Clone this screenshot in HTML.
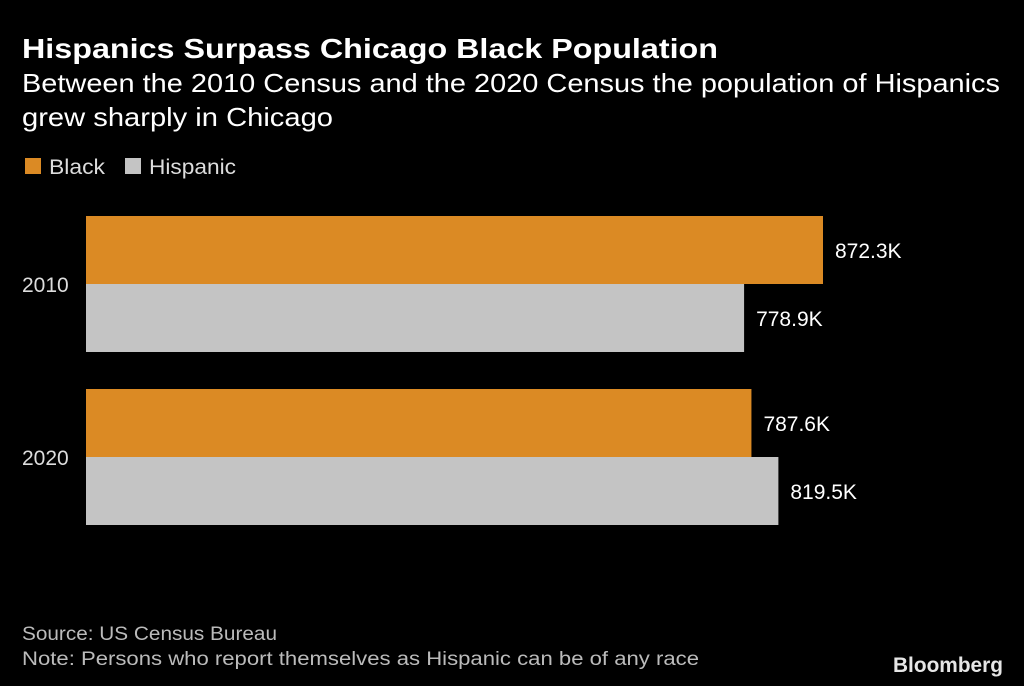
<!DOCTYPE html>
<html><head><meta charset="utf-8"><style>
html,body{margin:0;padding:0;background:#000;}
svg{display:block;font-family:"Liberation Sans","DejaVu Sans",sans-serif;}
</style></head><body>
<svg id="chart" width="1024" height="686" viewBox="0 0 1024 686">
<rect width="1024" height="686" fill="#000"/>
<text x="22" y="58" font-size="28" font-weight="bold" fill="#fff" textLength="696" lengthAdjust="spacingAndGlyphs">Hispanics Surpass Chicago Black Population</text>
<text x="22" y="92" font-size="26" fill="#fff" textLength="978" lengthAdjust="spacingAndGlyphs">Between the 2010 Census and the 2020 Census the population of Hispanics</text>
<text x="22" y="126" font-size="26" fill="#fff" textLength="311" lengthAdjust="spacingAndGlyphs">grew sharply in Chicago</text>
<g>
<rect x="25" y="158" width="16" height="16" fill="#DB8A24"/>
<text x="49" y="174" font-size="21" fill="#ddd" textLength="56" lengthAdjust="spacingAndGlyphs">Black</text>
<rect x="125" y="158" width="16" height="16" fill="#C4C4C4"/>
<text x="149" y="174" font-size="21" fill="#ddd" textLength="87" lengthAdjust="spacingAndGlyphs">Hispanic</text>
</g>
<g id="bars"></g>
<text x="22" y="640" font-size="19" fill="#bbb" textLength="255" lengthAdjust="spacingAndGlyphs">Source: US Census Bureau</text>
<text x="22" y="665" font-size="19" fill="#bbb" textLength="677" lengthAdjust="spacingAndGlyphs">Note: Persons who report themselves as Hispanic can be of any race</text>
<text x="1003" y="672" font-size="21" font-weight="bold" fill="#e6e6e6" text-anchor="end" textLength="110" lengthAdjust="spacingAndGlyphs">Bloomberg</text>
</svg>
<script>
const categories = ["2010", "2020"];
const blackValues = [872.3, 787.6];
const hispanicValues = [778.9, 819.5];
const valueLabelsBlack = ["872.3K", "787.6K"];
const valueLabelsHispanic = ["778.9K", "819.5K"];

const x0 = 86, pxPerK = 737 / 872.3;
function xScale(v){ return x0 + v * pxPerK; }
const groupTop = [216, 389], barH = 68;
const g = document.getElementById('bars');
const NS = 'http://www.w3.org/2000/svg';
function mk(tag, attrs){ const e=document.createElementNS(NS,tag); for(const k in attrs) e.setAttribute(k,attrs[k]); return e; }
categories.forEach((c,i)=>{
  const series = [[blackValues[i],'#DB8A24',valueLabelsBlack[i],'black'],[hispanicValues[i],'#C4C4C4',valueLabelsHispanic[i],'hispanic']];
  series.forEach((s,j)=>{
    const y = groupTop[i] + j*barH;
    const r = mk('rect',{x:x0,y:y,width:xScale(s[0])-x0,height:barH,fill:s[1]});
    
    
    g.appendChild(r);
    const t = mk('text',{x:xScale(s[0])+12,y:y+barH/2+8,'font-size':21,fill:'#fff'});
    t.textContent = s[2];
    
    
    g.appendChild(t);
  });
  const l = mk('text',{x:22,y:groupTop[i]+barH+8,'font-size':21,fill:'#ddd'});
  l.textContent = c;
  
  
  g.appendChild(l);
});
</script>
</body></html>
